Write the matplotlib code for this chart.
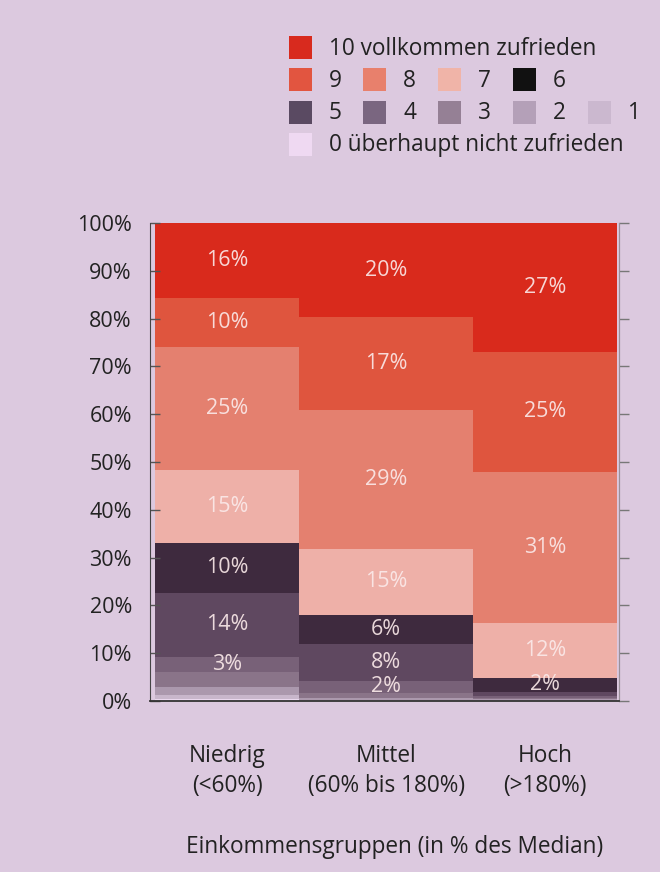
import matplotlib
matplotlib.use("Agg")
import matplotlib.pyplot as plt
from matplotlib.patches import Rectangle
import numpy as np

plt.rcParams['font.family'] = ['Open Sans', 'DejaVu Sans']

# ---- data ----
groups = ["Niedrig\n(<60%)", "Mittel\n(60% bis 180%)", "Hoch\n(>180%)"]
categories = ["10", "9", "8", "7", "6", "5", "4", "3", "2", "1", "0"]
legend_names = ["10 vollkommen zufrieden", "9", "8", "7", "6", "5", "4", "3", "2", "1",
                "0 überhaupt nicht zufrieden"]
niedrig = [15.7, 10.2, 25.8, 15.2, 10.5, 13.4, 3.2, 3.1, 1.6, 0.8, 0.5]
mittel = [19.7, 19.4, 29.0, 14.0, 6.0, 7.7, 2.5, 1.0, 0.4, 0.2, 0.1]
hoch = [26.9, 25.1, 31.6, 11.5, 3.1, 0.7, 0.4, 0.3, 0.2, 0.1, 0.1]
labels_niedrig = ["16%", "10%", "25%", "15%", "10%", "14%", "3%", "", "", "", ""]
labels_mittel = ["20%", "17%", "29%", "15%", "6%", "8%", "2%", "", "", "", ""]
labels_hoch = ["27%", "25%", "31%", "12%", "2%", "", "", "", "", "", ""]
yticks = [0, 10, 20, 30, 40, 50, 60, 70, 80, 90, 100]
xlabel = "Einkommensgruppen (in % des Median)"

# ---- style ----
bg = "#dcc9df"
bar_colors = ["#d92a1c", "#df553e", "#e4806f", "#eeb0a8", "#3e2a3e", "#5f4860",
              "#786178", "#8a7489", "#ab98ad", "#c8b6cb", "#ead8ee"]
legend_colors = ["#d82a1e", "#e25540", "#e8806c", "#f0b4a8", "#111111", "#5a4a62",
                 "#7a6680", "#958095", "#b4a0b8", "#cbb8cf", "#efd9f2"]
bar_widths = [144, 174, 144]
x_start = 5

W, H = 660, 872
fig = plt.figure(figsize=(W / 100, H / 100), dpi=100, facecolor=bg)
ax = fig.add_axes([150 / W, 1 - 701 / H, (619 - 150) / W, (701 - 223) / H])
ax.set_facecolor(bg)

series = [niedrig, mittel, hoch]
labels = [labels_niedrig, labels_mittel, labels_hoch]
lefts = x_start + np.concatenate([[0], np.cumsum(bar_widths)[:-1]])
centers = lefts + np.array(bar_widths) / 2

for gi, vals in enumerate(series):
    top = 100.0
    for ci, v in enumerate(vals):
        bottom = top - v
        ax.bar(lefts[gi], v, width=bar_widths[gi], bottom=bottom, align='edge',
               color=bar_colors[ci], edgecolor='none', zorder=1)
        if labels[gi][ci]:
            ax.text(centers[gi], bottom + v / 2, labels[gi][ci], ha='center', va='center',
                    color='#fbeaea', alpha=0.9, fontsize=15.5, zorder=3)
        top = bottom

ax.set_xlim(0, x_start + sum(bar_widths) + 2)
ax.set_ylim(0, 100)
ax.set_yticks(yticks)
ax.set_yticklabels([f"{t}%" for t in yticks], fontsize=15.5, color='#222222')
ax.tick_params(axis='y', direction='in', length=7, width=1, color='#555555', pad=13)
ax.set_xticks(centers)
ax.set_xticklabels(groups, fontsize=16.3, color='#222222', linespacing=1.33)
ax.tick_params(axis='x', length=0, pad=31)

ax.spines['top'].set_visible(False)
ax.spines['left'].set_color('#444444')
ax.spines['bottom'].set_color('#333333')
ax.spines['bottom'].set_linewidth(1.3)
ax.spines['right'].set_color('#9a909a')

sec = ax.secondary_yaxis('right')
sec.set_yticks(yticks)
sec.set_yticklabels([])
sec.tick_params(direction='out', length=7, width=1, color='#777777')
sec.spines['right'].set_color('#9a909a')

fig.text(395 / W, 1 - 847 / H, xlabel, ha='center', va='center', fontsize=16.3, color='#222222')

# ---- legend ----
sq = 23
rows = [[0], [1, 2, 3, 4], [5, 6, 7, 8, 9], [10]]
row_y = [48, 80, 112, 144]
col_x = [289, 363, 438, 513, 588]
for r, idxs in enumerate(rows):
    for c, i in enumerate(idxs):
        x0 = col_x[c]
        y0 = row_y[r]
        fig.patches.append(Rectangle((x0 / W, 1 - (y0 + sq / 2) / H), sq / W, sq / H,
                                     transform=fig.transFigure, facecolor=legend_colors[i],
                                     edgecolor='none'))
        fig.text((x0 + 40) / W, 1 - (y0 + 1) / H, legend_names[i], ha='left', va='center',
                 fontsize=16.3, color='#222222')

fig.savefig("out.png", dpi=100, facecolor=bg)
